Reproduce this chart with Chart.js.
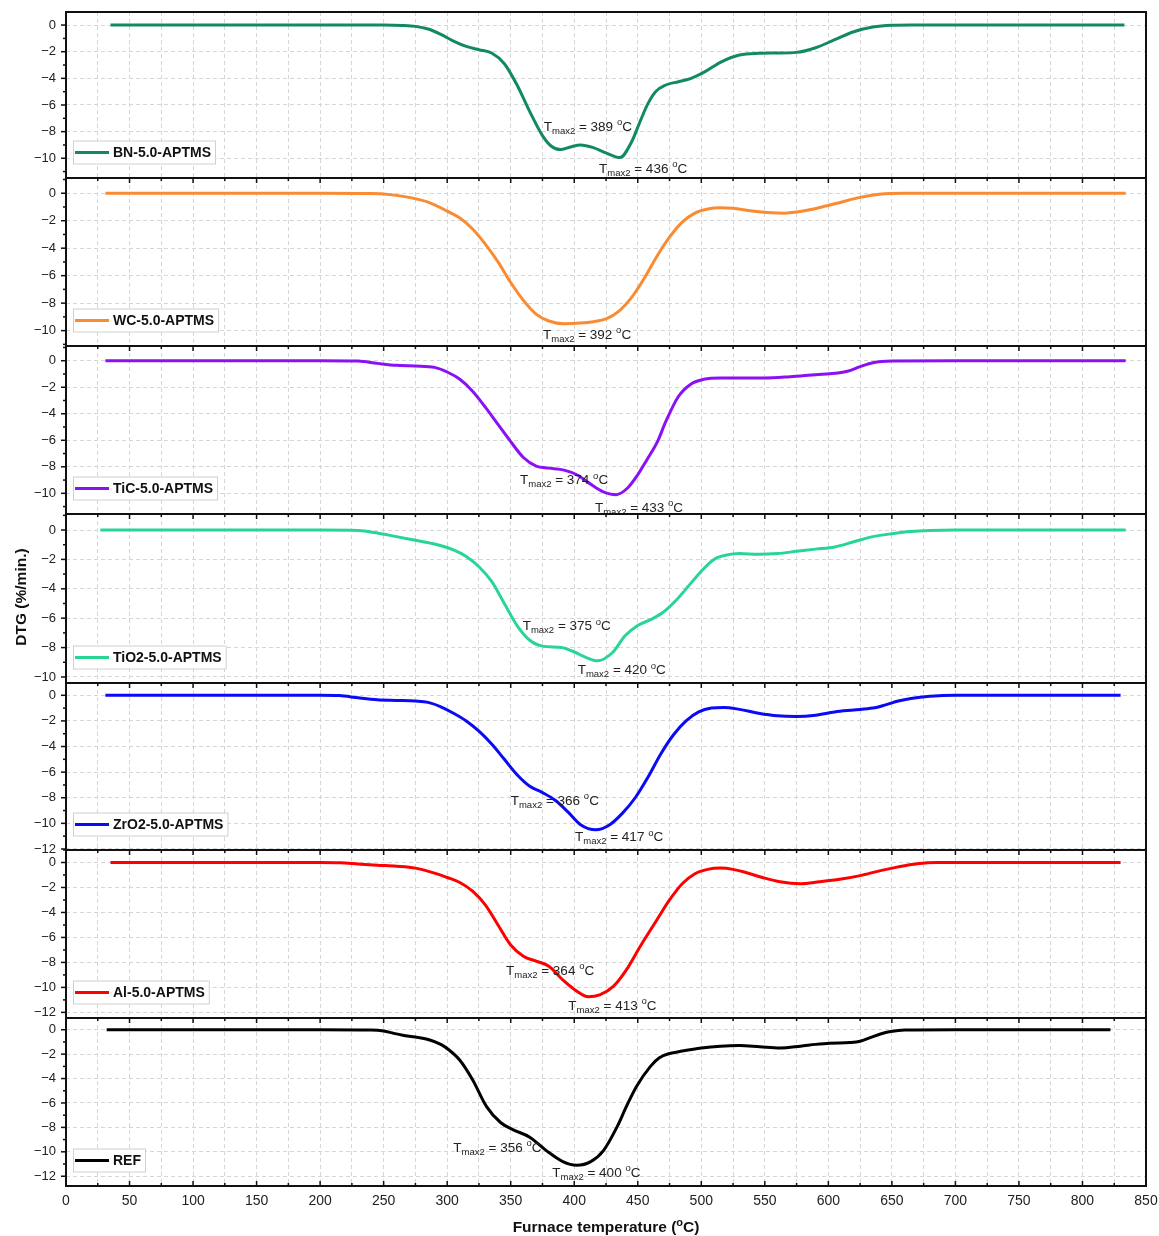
<!DOCTYPE html>
<html><head><meta charset="utf-8">
<script src="https://cdn.jsdelivr.net/npm/chart.js@4/dist/chart.umd.min.js"></script>
<style>
html,body{margin:0;padding:0;background:#fff;}
#wrap{position:relative;width:1159px;height:1236px;overflow:hidden;}
#wrap canvas{position:absolute;left:0;top:0;}
</style></head><body><div id="wrap"></div>
<script>
// ---------------- DATA ----------------
const seriesNames = ['BN-5.0-APTMS','WC-5.0-APTMS','TiC-5.0-APTMS','TiO2-5.0-APTMS','ZrO2-5.0-APTMS','Al-5.0-APTMS','REF'];
const xTickLabels = [0,50,100,150,200,250,300,350,400,450,500,550,600,650,700,750,800,850];

const bnT = [35,100,200,250,265,275,285,295,305,315,325,335,345,355,365,375,382,389,397,405,415,425,436,445,452,458,464,472,482,492,503,515,530,545,560,575,590,605,620,635,650,665,700,800,833];
const bnV = [0,0,0,0,-0.03,-0.1,-0.3,-0.7,-1.2,-1.6,-1.85,-2.1,-2.9,-4.5,-6.5,-8.3,-9.1,-9.35,-9.15,-9.0,-9.2,-9.6,-9.95,-8.8,-7.2,-5.9,-5.0,-4.5,-4.25,-4.0,-3.5,-2.8,-2.25,-2.12,-2.1,-2.05,-1.7,-1.1,-0.5,-0.15,-0.02,0,0,0,0];

const wcT = [31,100,200,240,255,270,285,300,310,320,330,340,350,360,370,380,392,405,415,425,435,445,455,465,475,485,495,505,515,525,540,555,565,580,595,610,625,640,660,750,834];
const wcV = [0,0,0,-0.02,-0.1,-0.3,-0.65,-1.3,-1.8,-2.6,-3.7,-5.0,-6.5,-7.8,-8.8,-9.3,-9.5,-9.45,-9.35,-9.15,-8.6,-7.6,-6.2,-4.6,-3.2,-2.1,-1.45,-1.15,-1.05,-1.1,-1.3,-1.42,-1.45,-1.3,-1.0,-0.65,-0.3,-0.08,0,0,0];

const ticT = [31,100,200,230,245,260,275,290,300,310,320,330,340,350,360,370,380,392,402,412,422,433,442,450,457,466,472,482,492,502,515,530,550,570,590,605,615,625,635,650,700,834];
const ticV = [0,0,0,-0.03,-0.2,-0.35,-0.4,-0.5,-0.85,-1.4,-2.3,-3.5,-4.8,-6.1,-7.3,-7.95,-8.1,-8.25,-8.6,-9.25,-9.85,-10.1,-9.6,-8.6,-7.5,-6.0,-4.6,-2.7,-1.75,-1.4,-1.3,-1.3,-1.3,-1.2,-1.05,-0.95,-0.8,-0.45,-0.15,-0.02,0,0];

const tioT = [27,100,200,230,245,260,275,290,305,315,325,335,345,355,365,375,390,400,410,418,430,440,450,460,470,480,490,500,510,520,530,545,560,575,590,605,620,635,650,665,680,700,834];
const tioV = [0,0,0,-0.03,-0.2,-0.45,-0.7,-0.95,-1.35,-1.8,-2.5,-3.5,-5.0,-6.5,-7.5,-7.9,-8.0,-8.3,-8.7,-8.9,-8.35,-7.2,-6.5,-6.1,-5.6,-4.8,-3.8,-2.8,-2.0,-1.7,-1.6,-1.65,-1.6,-1.45,-1.3,-1.15,-0.8,-0.45,-0.25,-0.1,-0.03,0,0];

const zrT = [31,100,200,215,230,245,260,275,285,295,305,315,325,335,345,355,365,375,385,395,405,417,428,438,448,458,468,478,488,498,508,518,530,545,560,575,590,605,620,635,645,655,665,680,700,830];
const zrV = [0,0,0,-0.02,-0.2,-0.35,-0.4,-0.45,-0.55,-0.9,-1.4,-2.0,-2.8,-3.8,-5.0,-6.2,-7.1,-7.6,-8.2,-9.1,-10.1,-10.5,-10.1,-9.2,-8.0,-6.4,-4.6,-3.1,-2.0,-1.3,-1.0,-0.95,-1.1,-1.4,-1.6,-1.65,-1.55,-1.3,-1.15,-1.0,-0.75,-0.45,-0.25,-0.08,0,0];

const alT = [35,100,200,216,230,245,260,275,290,300,310,320,330,340,350,360,370,380,391,402,411,420,431,441,452,465,475,485,495,505,515,525,535,548,562,578,593,609,625,641,655,670,685,830];
const alV = [0,0,0,-0.02,-0.12,-0.22,-0.3,-0.45,-0.85,-1.2,-1.6,-2.3,-3.4,-5.0,-6.6,-7.5,-7.9,-8.3,-9.4,-10.3,-10.75,-10.6,-9.9,-8.6,-6.7,-4.6,-3.0,-1.7,-0.9,-0.55,-0.45,-0.55,-0.8,-1.2,-1.55,-1.7,-1.55,-1.35,-1.05,-0.65,-0.35,-0.1,0,0];

const refT = [32,100,200,240,250,258,265,275,285,295,302,310,320,331,342,352,365,378,391,402,413,423,434,441,449,460,467,475,485,500,515,530,546,562,578,590,601,617,625,633,641,649,660,700,822];
const refV = [0,0,0,-0.02,-0.1,-0.3,-0.45,-0.6,-0.8,-1.2,-1.7,-2.5,-4.1,-6.3,-7.6,-8.2,-8.8,-9.9,-10.8,-11.1,-10.8,-9.9,-7.9,-6.3,-4.65,-3.0,-2.3,-1.95,-1.75,-1.5,-1.35,-1.3,-1.4,-1.5,-1.35,-1.2,-1.1,-1.05,-0.95,-0.65,-0.35,-0.15,-0.02,0,0];

// labelled peak temperatures (Tmax2) for each panel
const bnPeaks  = [389, 436];
const wcPeaks  = [392];
const ticPeaks = [374, 433];
const tioPeaks = [375, 420];
const zrPeaks  = [366, 417];
const alPeaks  = [364, 413];
const refPeaks = [356, 400];

// y tick labels for each panel
const yTicks10 = [0,-2,-4,-6,-8,-10];
const yTicks12 = [0,-2,-4,-6,-8,-10,-12];

// ---------------- LAYOUT / STYLE ----------------
const FONT = '"Liberation Sans", Arial, Helvetica, sans-serif';
const W = 1159, H = 1236;
const panels = [
  {T: bnT,  V: bnV,  peaks: bnPeaks,  color:'#118b5e', top:12,   bottom:178,  min:-11.48, max:0.98, ticks:yTicks10,
   notes:[[376,-7.95],[419.5,-11.08]]},
  {T: wcT,  V: wcV,  peaks: wcPeaks,  color:'#f98b32', top:178,  bottom:346,  min:-11.12, max:1.11, ticks:yTicks10,
   notes:[[375.4,-10.6]]},
  {T: ticT, V: ticV, peaks: ticPeaks, color:'#8a10f5', top:346,  bottom:514,  min:-11.56, max:1.11, ticks:yTicks10,
   notes:[[357.3,-9.31],[416.3,-11.38]]},
  {T: tioT, V: tioV, peaks: tioPeaks, color:'#27d695', top:514,  bottom:683,  min:-10.41, max:1.09, ticks:yTicks10,
   notes:[[359.4,-6.82],[402.7,-9.82]]},
  {T: zrT,  V: zrV,  peaks: zrPeaks,  color:'#0a0af5', top:683,  bottom:850,  min:-12.08, max:0.96, ticks:yTicks12,
   notes:[[350,-8.55],[400.6,-11.4]]},
  {T: alT,  V: alV,  peaks: alPeaks,  color:'#ff0000', top:850,  bottom:1018, min:-12.45, max:1.0, ticks:yTicks12,
   notes:[[346.3,-8.98],[395.3,-11.78]]},
  {T: refT, V: refV, peaks: refPeaks, color:'#000000', top:1018, bottom:1186, min:-12.8, max:0.96, ticks:yTicks12,
   notes:[[304.8,-10.0],[382.7,-12.05]]}
];

function minusFmt(v){ return v < 0 ? '\u2212' + Math.abs(v) : String(v); }

function drawSupText(ctx, x, y, parts){
  for (const [t, k] of parts){
    if (k === 'n'){ ctx.font = '13.5px ' + FONT; ctx.fillText(t, x, y); }
    else if (k === 'sub'){ ctx.font = '9.5px ' + FONT; ctx.fillText(t, x, y + 3); }
    else { ctx.font = '9.5px ' + FONT; ctx.fillText(t, x, y - 5.5); }
    x += ctx.measureText(t).width;
  }
  return x;
}

const decor = {
  id: 'decor',
  afterDraw(chart, args, o){
    const {ctx, chartArea: a} = chart;
    const xs = chart.scales.x, ys = chart.scales.y;
    ctx.save();
    ctx.setLineDash([]);
    ctx.strokeStyle = '#111';
    ctx.lineWidth = 2;
    ctx.strokeRect(a.left, a.top, a.right - a.left, a.bottom - a.top);
    ctx.lineWidth = 1.5;
    const line = (x1,y1,x2,y2)=>{ctx.beginPath();ctx.moveTo(x1,y1);ctx.lineTo(x2,y2);ctx.stroke();};
    for (let v = Math.ceil(ys.min); v <= Math.floor(ys.max); v++){
      const py = ys.getPixelForValue(v);
      const len = (v % 2 === 0) ? 5 : 3;
      line(a.left - len, py, a.left, py);
    }
    for (let t = 0; t <= 850; t += 25){
      const px = xs.getPixelForValue(t);
      const len = (t % 50 === 0) ? 5 : 3;
      if (!o.first) line(px, a.top, px, a.top + len);
      if (o.last) line(px, a.bottom, px, a.bottom - len);
    }
    // legend box
    const cy = a.bottom - 25.5;
    ctx.font = 'bold 14px ' + FONT;
    const tw = ctx.measureText(o.name).width;
    const bx = a.left + 7, bw = 40 + tw + 4;
    ctx.fillStyle = '#fff';
    ctx.fillRect(bx, cy - 11.5, bw, 23);
    ctx.strokeStyle = '#d0d0d0'; ctx.lineWidth = 1;
    ctx.strokeRect(bx + 0.5, cy - 11.5, bw, 23);
    ctx.strokeStyle = o.color; ctx.lineWidth = 3;
    line(a.left + 9, cy, a.left + 43, cy);
    ctx.fillStyle = '#111'; ctx.textBaseline = 'middle'; ctx.textAlign = 'left';
    ctx.fillText(o.name, a.left + 47, cy + 0.5);
    // Tmax2 notes
    ctx.fillStyle = '#222'; ctx.textBaseline = 'alphabetic';
    o.notes.forEach((p, i) => {
      const px = xs.getPixelForValue(p[0]);
      const py = ys.getPixelForValue(p[1]);
      drawSupText(ctx, px, py, [['T','n'],['max2','sub'],[' = ' + o.peaks[i] + ' ','n'],['o','sup'],['C','n']]);
    });
    if (o.last){
      ctx.fillStyle = '#111';
      const p1 = 'Furnace temperature (', p3 = 'C)';
      ctx.font = 'bold 15.5px ' + FONT; const w1 = ctx.measureText(p1).width, w3 = ctx.measureText(p3).width;
      ctx.font = 'bold 11px ' + FONT; const w2 = ctx.measureText('o').width;
      let x0 = (a.left + a.right) / 2 - (w1 + w2 + w3) / 2;
      const yb = 1232;
      ctx.font = 'bold 15.5px ' + FONT; ctx.fillText(p1, x0, yb); x0 += w1;
      ctx.font = 'bold 11px ' + FONT; ctx.fillText('o', x0, yb - 6.5); x0 += w2;
      ctx.font = 'bold 15.5px ' + FONT; ctx.fillText(p3, x0, yb);
      ctx.save();
      ctx.translate(26, 597);
      ctx.rotate(-Math.PI / 2);
      ctx.font = 'bold 15.5px ' + FONT;
      ctx.textAlign = 'center'; ctx.textBaseline = 'alphabetic';
      ctx.fillText('DTG (%/min.)', 0, 0);
      ctx.restore();
    }
    ctx.restore();
  }
};

function noPad(s){ s.paddingTop = 0; s.paddingBottom = 0; s.paddingLeft = 0; s.paddingRight = 0; }

const wrap = document.getElementById('wrap');
panels.forEach((p, idx) => {
  const last = idx === panels.length - 1;
  const cv = document.createElement('canvas');
  cv.width = W; cv.height = H;
  cv.style.width = W + 'px'; cv.style.height = H + 'px';
  wrap.appendChild(cv);
  const xH = last ? 50 : 0;
  new Chart(cv.getContext('2d'), {
    type: 'line',
    data: {
      datasets: [{
        label: seriesNames[idx],
        data: p.T.map((t, i) => ({x: t, y: p.V[i]})),
        borderColor: p.color,
        borderWidth: 3,
        pointRadius: 0,
        fill: false,
        cubicInterpolationMode: 'monotone'
      }]
    },
    options: {
      responsive: false,
      animation: false,
      devicePixelRatio: 1,
      events: [],
      layout: {padding: {top: p.top, bottom: H - p.bottom - xH, left: 0, right: 13}},
      plugins: {
        legend: {display: false},
        tooltip: {enabled: false},
        decor: {name: seriesNames[idx], color: p.color, notes: p.notes, peaks: p.peaks, first: idx === 0, last}
      },
      scales: {
        x: {
          type: 'linear', min: 0, max: 850,
          afterBuildTicks: s => { const t = []; for (let v = 0; v <= 850; v += 25) t.push({value: v}); s.ticks = t; },
          afterFit: s => { s.height = xH; noPad(s); },
          grid: {color: '#d6d6d6', lineWidth: 1, drawTicks: false},
          border: {display: false, dash: [4, 3]},
          ticks: {
            display: last, autoSkip: false, maxRotation: 0, padding: 7,
            color: '#222', font: {family: FONT, size: 14},
            callback: v => (xTickLabels.includes(v) ? String(v) : '')
          }
        },
        y: {
          type: 'linear', min: p.min, max: p.max,
          afterBuildTicks: s => { s.ticks = p.ticks.map(v => ({value: v})); },
          afterFit: s => { s.width = 66; noPad(s); },
          grid: {color: '#d6d6d6', lineWidth: 1, drawTicks: false},
          border: {display: false, dash: [4, 3]},
          ticks: {padding: 10, color: '#222', font: {family: FONT, size: 13}, callback: v => minusFmt(v)}
        }
      }
    },
    plugins: [decor]
  });
});
</script>
</body></html>
